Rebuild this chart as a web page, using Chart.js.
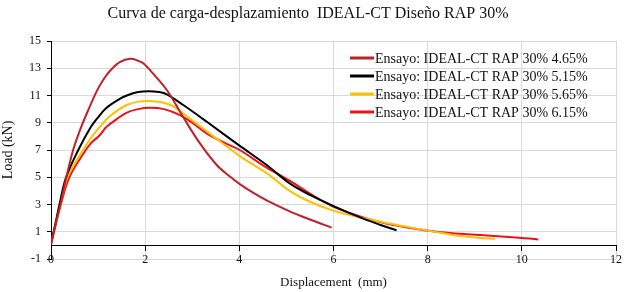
<!DOCTYPE html>
<html><head><meta charset="utf-8">
<script src="https://cdn.jsdelivr.net/npm/chart.js@4/dist/chart.umd.min.js"></script>
<style>html,body{margin:0;padding:0;background:#fff}#c{display:block}</style>
</head><body>
<canvas id="c" width="628" height="292"></canvas>
<script>
const seriesLabels = [
  'Ensayo: IDEAL-CT RAP 30% 4.65%',
  'Ensayo: IDEAL-CT RAP 30% 5.15%',
  'Ensayo: IDEAL-CT RAP 30% 5.65%',
  'Ensayo: IDEAL-CT RAP 30% 6.15%'
];
const seriesColors = ['#C0202A', '#000000', '#FFC000', '#EE1118'];

const disp465 = [0,0.1,0.2,0.32,0.47,0.62,0.8,0.97,1.1,1.25,1.46,1.69,1.85,1.96,2.17,2.46,2.81,3.16,3.52,3.8,4.01,4.3,4.58,5.07,5.5,5.96];
const load465 = [0.1,1.6,3.0,4.9,7.0,8.5,10.0,11.3,12.1,12.8,13.45,13.7,13.55,13.36,12.6,11.4,9.4,7.5,5.9,5.05,4.5,3.85,3.3,2.5,1.9,1.3];

const disp515 = [0,0.1,0.18,0.32,0.58,0.83,1.0,1.18,1.46,1.61,1.85,2.07,2.3,2.46,2.81,3.31,4.01,4.58,5.07,5.5,5.99,6.63,7.0,7.34];
const load515 = [0.1,1.7,3.0,5.0,7.0,8.6,9.4,10.1,10.75,11.0,11.25,11.32,11.25,11.08,10.3,9.07,7.3,5.9,4.55,3.7,2.9,1.96,1.5,1.1];

const disp565 = [0,0.1,0.2,0.35,0.68,0.85,1.04,1.18,1.39,1.61,1.85,2.1,2.35,2.6,2.95,3.45,4.01,4.58,5.07,5.5,5.99,6.5,7.05,7.5,7.98,8.4,8.75,9.1,9.43];
const load565 = [0.1,1.6,3.0,5.0,7.0,7.9,8.7,9.25,9.85,10.3,10.55,10.6,10.5,10.2,9.3,8.0,6.55,5.3,4.0,3.2,2.55,2.1,1.7,1.4,1.1,0.85,0.66,0.55,0.49];

const disp615 = [0,0.1,0.2,0.39,0.7,0.85,1.04,1.18,1.39,1.61,1.85,2.1,2.4,2.74,3.0,3.31,3.7,4.01,4.58,5.07,5.5,5.99,6.5,7.05,7.6,8.19,8.7,9.18,9.8,10.35];
const load615 = [0.1,1.5,2.9,5.0,6.8,7.5,8.1,8.7,9.25,9.75,10.0,10.1,10.0,9.56,9.0,8.2,7.5,7.0,5.7,4.75,3.8,2.85,2.2,1.65,1.3,1.0,0.85,0.74,0.6,0.44];

const xTicks = [0,2,4,6,8,10,12];
const yTicks = [-1,1,3,5,7,9,11,13,15];

const allDisp = [disp465, disp515, disp565, disp615];
const allLoad = [load465, load515, load565, load615];

const FONT = "'Liberation Serif', 'Times New Roman', serif";

const datasets = allDisp.map((d, i) => ({
  label: seriesLabels[i],
  data: d.map((x, k) => ({x: x, y: allLoad[i][k]})),
  borderColor: seriesColors[i],
  backgroundColor: seriesColors[i],
  borderWidth: 2,
  pointRadius: 0,
  showLine: true,
  fill: false,
  tension: 0.35
}));

const insideLegend = {
  id: 'insideLegend',
  afterDraw(chart) {
    const ctx = chart.ctx;
    const ca = chart.chartArea;
    const x0 = ca.left + 299;
    const y0 = ca.top + 17;
    ctx.save();
    ctx.font = '14px ' + FONT;
    ctx.textBaseline = 'middle';
    ctx.textAlign = 'left';
    chart.data.datasets.forEach((ds, i) => {
      const y = y0 + i * 18;
      ctx.strokeStyle = ds.borderColor;
      ctx.lineWidth = 3;
      ctx.beginPath();
      ctx.moveTo(x0, y);
      ctx.lineTo(x0 + 24, y);
      ctx.stroke();
      ctx.fillStyle = '#111';
      ctx.fillText(ds.label, x0 + 25, y + 1);
    });
    ctx.restore();
  }
};

new Chart(document.getElementById('c'), {
  type: 'scatter',
  data: { datasets },
  plugins: [insideLegend],
  options: {
    responsive: false,
    animation: false,
    devicePixelRatio: 1,
    layout: { padding: { left: 0, right: 12, bottom: 33, top: 0 } },
    plugins: {
      legend: { display: false },
      tooltip: { enabled: false },
      title: {
        display: true,
        text: 'Curva de carga-desplazamiento  IDEAL-CT Diseño RAP 30%',
        font: { family: FONT, size: 16, weight: 'normal' },
        color: '#111',
        padding: { top: 4, bottom: 17.8 }
      }
    },
    scales: {
      x: {
        type: 'linear',
        position: { y: 0 },
        min: 0, max: 12,
        afterBuildTicks: (s) => { s.ticks = xTicks.map(v => ({value: v})); },
        ticks: { font: { family: FONT, size: 12 }, color: '#111', padding: 2, maxRotation: 0 },
        grid: { color: '#D9D9D9', lineWidth: 1, tickLength: 5, tickColor: '#000', drawTicks: true },
        border: { color: '#000', width: 1 },
        title: {
          display: true,
          text: 'Displacement  (mm)',
          font: { family: FONT, size: 13 },
          color: '#111',
          padding: { top: 6 }
        }
      },
      y: {
        type: 'linear',
        position: 'left',
        min: -1, max: 15,
        afterBuildTicks: (s) => { s.ticks = yTicks.map(v => ({value: v})); },
        afterFit: (s) => { s.width = 51; },
        ticks: { font: { family: FONT, size: 12 }, color: '#111', padding: 6 },
        grid: { color: '#D9D9D9', lineWidth: 1, tickLength: 4, tickColor: '#000' },
        border: { color: '#000', width: 1 },
        title: {
          display: true,
          text: 'Load (kN)',
          font: { family: FONT, size: 14 },
          color: '#111',
          padding: { top: 0, bottom: 0 }
        }
      }
    }
  }
});
</script>
</body></html>
